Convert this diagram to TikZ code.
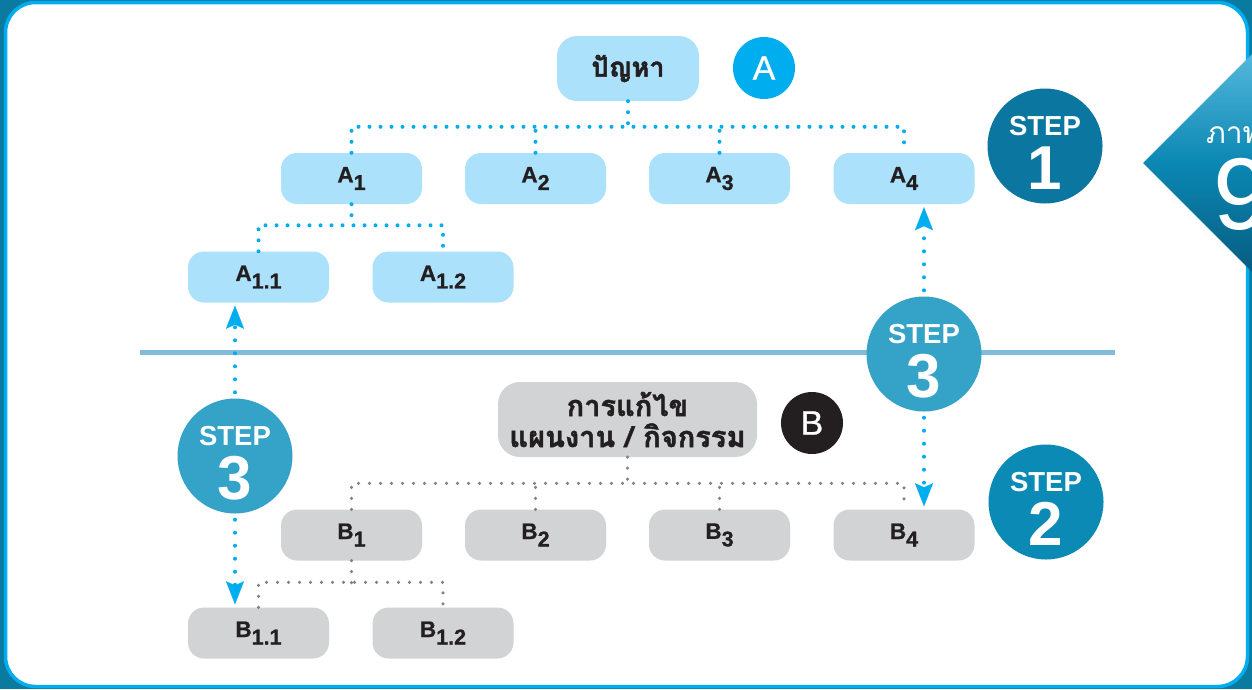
\documentclass[tikz,border=0pt]{standalone}
\usepackage{fontspec}
\setmainfont{Liberation Sans}
\newfontfamily\thai[Script=Thai]{Loma}
\newfontfamily\thaiB[Script=Thai,FakeBold=1.5]{Loma}
\newfontfamily\boxfont[BoldFeatures={FakeBold=0.8}]{Liberation Sans}
\newfontfamily\stepfont[FakeBold=0.8]{Liberation Sans}
\usetikzlibrary{arrows.meta}
\definecolor{outerC}{HTML}{0A7AA0}
\definecolor{rimC}{HTML}{00AEEF}
\definecolor{lightA}{HTML}{ABE1FA}
\definecolor{greyB}{HTML}{D1D3D4}
\definecolor{ink}{HTML}{231F20}
\definecolor{cyanD}{HTML}{00AEEF}
\definecolor{greyD}{HTML}{808285}
\definecolor{stepOne}{HTML}{0B76A0}
\definecolor{stepTwo}{HTML}{0A8AB5}
\definecolor{stepThree}{HTML}{35A2C8}
\definecolor{sepC}{HTML}{7FBDDB}
\definecolor{tabTop}{HTML}{5CBBDF}
\definecolor{tabMid}{HTML}{0A88B3}
\definecolor{tabBot}{HTML}{07587D}
\tikzset{
  abox/.style={fill=lightA, rounded corners=16pt, minimum width=141pt, minimum height=51pt, inner sep=0pt, text=ink, font=\boxfont\fontsize{22.5}{22.5}\selectfont\bfseries},
  bbox/.style={abox, fill=greyB},
  adot/.style={draw=cyanD, line width=4pt, line cap=round, dash pattern=on 0pt off 11pt},
  bdot/.style={draw=greyD, line width=3.5pt, line cap=round, dash pattern=on 0pt off 11pt},
  arrdot/.style={draw=cyanD, line width=4pt, line cap=round, dash pattern=on 0pt off 13pt, shorten <=6pt, shorten >=3pt,
     -{Stealth[length=23pt,width=18pt,inset=4pt,line width=0.1pt]}},
  stepc/.style={circle, minimum size=115pt, inner sep=0pt},
  steplbl/.style={text=white, anchor=base, font=\fontsize{27.5}{27.5}\selectfont\bfseries},
  stepnum/.style={text=white, anchor=base, font=\fontsize{62}{62}\selectfont\bfseries},
  letterc/.style={circle, minimum size=62pt, inner sep=0pt, text=white, font=\stepfont\fontsize{34}{34}\selectfont},
}
\newcommand{\sbx}[1]{\raisebox{-7.5pt}{\fontsize{21.5}{21.5}\selectfont #1}}
\begin{document}
\begin{tikzpicture}[x=1pt,y=-1pt]
\useasboundingbox (0,0) rectangle (1252,689);
\fill[outerC] (0,0) rectangle (1252,689);
\draw[draw=rimC, line width=3.5pt, fill=white, rounded corners=30pt] (5.5,2.5) rectangle (1247.5,686.5);
% tab
\begin{scope}
\clip (0,0) rectangle (1252,689);
\shade[top color=tabTop, bottom color=tabBot, middle color=tabMid] (1143,163) -- (1262,44) -- (1262,282) -- cycle;
\node[text=white, anchor=base west, font=\thai\fontsize{30}{30}\selectfont, inner sep=0pt] (tabtxt) at (1206,143) {ภาพ};
\node[text=white, anchor=base west, font=\fontsize{102}{102}\selectfont, inner sep=0pt] (tabnum) at (1213,229) {9};
\end{scope}
% separator
\draw[sepC, line width=5pt] (140,352) -- (1115,352);
% nodes
\node[abox, minimum width=142pt, minimum height=65pt, rounded corners=20pt, font=\thaiB\fontsize{27}{27}\selectfont\bfseries] (P) at (628,68.5) {ปัญหา};
\node[letterc, fill=cyanD] (LA) at (764,68) {A};
\node[abox] (A1) at (351.5,178.5) {A\sbx{1}};
\node[abox] (A2) at (535.5,178.5) {A\sbx{2}};
\node[abox] (A3) at (719.5,178.5) {A\sbx{3}};
\node[abox] (A4) at (904,178.5) {A\sbx{4}};
\node[abox] (A11) at (258.5,277) {A\sbx{1.1}};
\node[abox] (A12) at (443,277) {A\sbx{1.2}};
\node[bbox, minimum width=259pt, minimum height=75pt, rounded corners=22pt, align=center, font=\thaiB\fontsize{29}{31}\selectfont\bfseries] (S) at (627.5,419.5) {การแก้ไข\\แผนงาน / กิจกรรม};
\node[letterc, fill=ink] (LB) at (812,423) {B};
\node[bbox] (B1) at (351.5,535) {B\sbx{1}};
\node[bbox] (B2) at (535.5,535) {B\sbx{2}};
\node[bbox] (B3) at (719.5,535) {B\sbx{3}};
\node[bbox] (B4) at (904,535) {B\sbx{4}};
\node[bbox] (B11) at (258.5,633) {B\sbx{1.1}};
\node[bbox] (B12) at (443,633) {B\sbx{1.2}};
% tree connectors A
\draw[adot] (P.south) -- ++(0,26);
\draw[adot] (A1.north) -- ++(0,-26) -| (A4.north);
\draw[adot] (A2.north) -- ++(0,-26);
\draw[adot] (A3.north) -- ++(0,-26);
\draw[adot] (A1.south) -- ++(0,22);
\draw[adot] (A11.north) -- ++(0,-26) -| (A12.north);
% tree connectors B
\draw[bdot] (S.south) -- ++(0,27);
\draw[bdot] (B1.north) -- ++(0,-26) -| (B4.north);
\draw[bdot] (B2.north) -- ++(0,-26);
\draw[bdot] (B3.north) -- ++(0,-26);
\draw[bdot] (B1.south) -- ++(0,23);
\draw[bdot] (B11.north) -- ++(0,-25) -| (B12.north);
% step circles
\node[stepc, fill=stepOne] (S1) at (1045,146) {};
\node[stepc, fill=stepTwo] (S2) at (1046,502) {};
\node[stepc, fill=stepThree] (S3R) at (924,354) {};
\node[stepc, fill=stepThree] (S3L) at (235,456) {};
\foreach \c/\n in {S1/1,S2/2,S3R/3,S3L/3}{
  \node[steplbl] at ([yshift=11pt]\c.center) {STEP};
  \node[stepnum] at ([yshift=-43pt]\c.center) {\n};
}
% step 3 arrows
\draw[arrdot] (S3R.north) -- (S3R.north |- A4.south);
\draw[arrdot] (S3R.south) -- (S3R.south |- B4.north);
\draw[arrdot] (S3L.north) -- (S3L.north |- A11.south);
\draw[arrdot] (S3L.south) -- (S3L.south |- B11.north);
\end{tikzpicture}
\end{document}
